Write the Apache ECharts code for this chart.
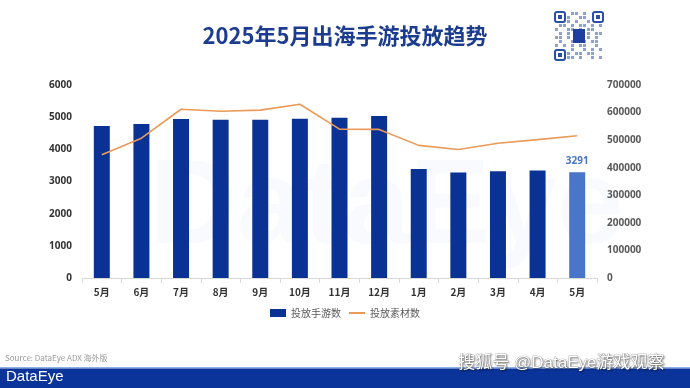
<!DOCTYPE html>
<html>
<head>
<meta charset="utf-8">
<script src="https://cdn.jsdelivr.net/npm/echarts@6/dist/echarts.min.js"></script>
<style>
html,body{margin:0;padding:0;background:#fff;}
#c{width:690px;height:388px;}
</style>
</head>
<body>
<div id="c"></div>
<script>
const categories = ['5月','6月','7月','8月','9月','10月','11月','12月','1月','2月','3月','4月','5月'];
const gameCounts = [4725, 4787, 4942, 4921, 4921, 4953, 4984, 5036, 3392, 3278, 3319, 3340, 3291];
const creativeCounts = [447000, 507000, 612000, 605000, 609000, 630000, 540000, 539000, 481000, 466000, 489000, 502000, 516000];
const leftTicks = [0, 1000, 2000, 3000, 4000, 5000, 6000];
const rightTicks = [0, 100000, 200000, 300000, 400000, 500000, 600000, 700000];

const chart = echarts.init(document.getElementById('c'));

// QR-like placeholder graphic
const qr = [];
const qx = 555, qy = 12, qs = 48;
function finder(x, y) {
  qr.push({type:'rect', shape:{x:x, y:y, width:10, height:10, r:2}, style:{fill:'none', stroke:'#2b4fa8', lineWidth:2}});
  qr.push({type:'rect', shape:{x:x+3, y:y+3, width:4, height:4}, style:{fill:'#2b4fa8'}});
}
const pattern = [
  '..x.xx.x.xx.',
  '.x.x..xx.x..',
  'x.xx.x..x.xx',
  '.xx.x.xx.x.x',
  'x..xx.x.xx..',
  '.x.x.xx.x.xx',
  'xx.x.x..x.x.',
  '.x..xx.x.xx.',
  'x.x.x.xx..x.',
  '.xx.x..x.x.x',
  'x..x.xx.xx..',
  '.x.xx.x..x.x'
];
for (let r = 0; r < 12; r++) {
  for (let c = 0; c < 12; c++) {
    const inFinder = (r < 3 && c < 3) || (r < 3 && c > 8) || (r > 8 && c < 3);
    if (!inFinder && pattern[r][c] === 'x') {
      qr.push({type:'rect', shape:{x:qx + c*4, y:qy + r*4, width:3, height:3}, style:{fill:'#8da2cf'}});
    }
  }
}
finder(qx, qy); finder(qx + qs - 10, qy); finder(qx, qy + qs - 10);
qr.push({type:'rect', shape:{x:qx+18, y:qy+17, width:12, height:14}, style:{fill:'#1f3fa0'}});

chart.setOption({
  animation: false,
  backgroundColor: '#ffffff',
  title: {
    text: '2025年5月出海手游投放趋势',
    left: 'center',
    top: 20,
    textStyle: {color: '#1c3d8f', fontSize: 22, fontWeight: 'bold', fontFamily: 'Noto Sans CJK SC'}
  },
  legend: {
    bottom: 65,
    left: 'center',
    itemWidth: 16,
    itemHeight: 8,
    itemGap: 8,
    textStyle: {color: '#595959', fontSize: 10, fontFamily: 'Noto Sans CJK SC'},
    data: [
      {name: '投放手游数', icon: 'rect'},
      {name: '投放素材数', icon: 'path://M0,0 H16 V2 H0 Z'}
    ]
  },
  grid: {left: 82, right: 93, top: 85, bottom: 110, containLabel: false},
  xAxis: {
    type: 'category',
    data: categories,
    axisLine: {lineStyle: {color: '#d9d9d9'}},
    axisTick: {show: true, lineStyle: {color: '#d9d9d9'}},
    axisLabel: {color: '#333333', fontSize: 10, fontWeight: 'bold', fontFamily: 'Noto Sans CJK SC', margin: 9}
  },
  yAxis: [
    {
      type: 'value', min: 0, max: 6000, interval: 1000,
      splitLine: {show: false},
      axisLine: {show: false}, axisTick: {show: false},
      axisLabel: {color: '#333333', fontSize: 10, fontWeight: 'bold', fontFamily: 'Noto Sans', margin: 10,
        formatter: v => String(v)}
    },
    {
      type: 'value', min: 0, max: 700000, interval: 100000,
      splitLine: {show: false},
      axisLine: {show: false}, axisTick: {show: false},
      axisLabel: {color: '#595959', fontSize: 10, fontWeight: 'bold', fontFamily: 'Noto Sans', margin: 10,
        formatter: v => String(v)}
    }
  ],
  series: [
    {
      name: '投放手游数',
      type: 'bar',
      barWidth: 16,
      itemStyle: {color: '#0a3294'},
      data: gameCounts.map((v, i) => i === gameCounts.length - 1 ? {
        value: v,
        itemStyle: {color: '#4a76c9'},
        label: {show: true, position: 'top', color: '#4a76c9', fontSize: 10, fontWeight: 'bold', fontFamily: 'Noto Sans', distance: 6}
      } : v),
      z: 2
    },
    {
      name: '投放素材数',
      type: 'line',
      yAxisIndex: 1,
      symbol: 'none',
      lineStyle: {color: '#eb9a58', width: 1.6},
      itemStyle: {color: '#eb9a58'},
      data: creativeCounts,
      z: 3
    }
  ],
  graphic: [
    {type: 'text', left: 150, top: 150, z: 0, silent: true,
     style: {text: 'DataEye', fontSize: 120, fontWeight: 'bold', fill: 'rgba(60,110,200,0.03)', fontFamily: 'Liberation Sans'}},
    {type: 'text', left: 5, top: 354, style: {text: 'Source: DataEye ADX 海外版', fill: '#9a9a9a', fontSize: 8, fontFamily: 'Noto Sans CJK SC'}},
    {type: 'rect', shape: {x: 0, y: 367, width: 690, height: 1.5}, style: {fill: '#8fb0e6'}},
    {type: 'rect', shape: {x: 0, y: 368.5, width: 690, height: 20}, style: {fill: '#0b349a'}},
    {type: 'text', left: 6, top: 369, style: {text: 'DataEye', fill: '#ffffff', fontSize: 15, fontFamily: 'Liberation Sans', fontWeight: 'normal'}},
    {type: 'text', left: 458, top: 355, style: {text: '搜狐号 @DataEye游戏观察', fill: '#ffffff', fontSize: 17, fontFamily: 'Liberation Sans, Noto Sans CJK SC', stroke: 'rgba(60,60,60,0.5)', lineWidth: 0.6, textShadowColor: 'rgba(0,0,0,0.45)', textShadowBlur: 2, textShadowOffsetX: 1, textShadowOffsetY: 1}},
    {type: 'group', children: qr}
  ]
});
</script>
</body>
</html>
